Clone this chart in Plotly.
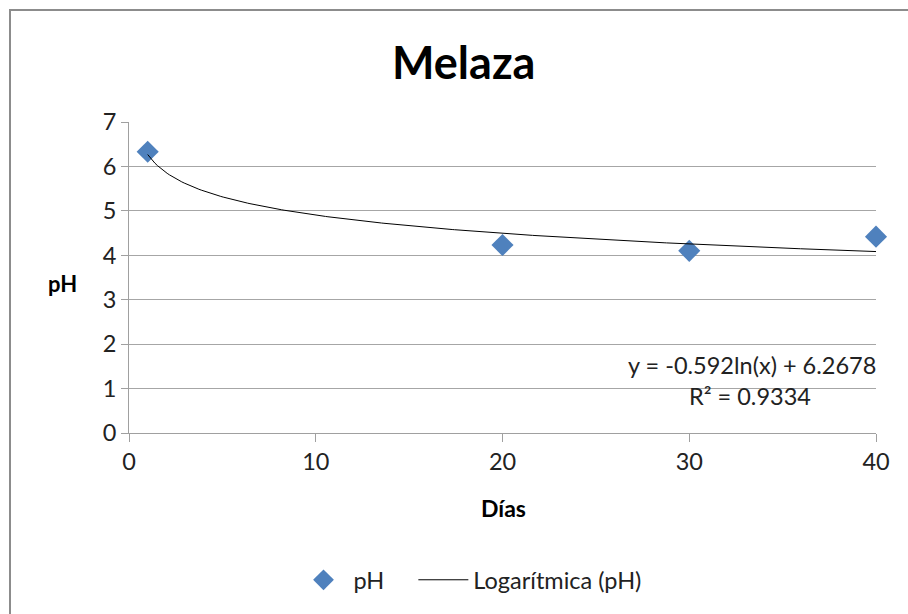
import numpy as np
import plotly.graph_objects as go

# Data
dias = [1, 20, 30, 40]
ph = [6.33, 4.23, 4.10, 4.42]

# Logarithmic trendline coefficients (as shown on chart)
trend_a = -0.592
trend_b = 6.2678
eq_text = "y = -0.592ln(x) + 6.2678"
r2_text = "R² = 0.9334"

x_ticks = [0, 10, 20, 30, 40]
y_ticks = [0, 1, 2, 3, 4, 5, 6, 7]

FONT = "Lato, 'Open Sans', sans-serif"
FS = 23.5
W, H = 908, 614
ml, mr, mt, mb = 129, 32, 122, 181
pw = W - ml - mr
ph_h = H - mt - mb

tx = np.linspace(min(dias), max(dias), 300)
ty = trend_a * np.log(tx) + trend_b

NBSP = "\u00a0"

fig = go.Figure()
fig.add_trace(go.Scatter(
    x=dias, y=ph, mode="markers", name="pH" + NBSP * 4,
    marker=dict(symbol="diamond", size=17, color="#4F81BD"),
    cliponaxis=False,
))
fig.add_trace(go.Scatter(
    x=tx, y=ty, mode="lines", name="Logarítmica (pH)",
    line=dict(color="black", width=1),
))

def px_to_paper_x(px):
    return (px - ml) / pw

def px_to_paper_y(py):
    return (H - mb - py) / ph_h

fig.update_layout(
    width=W, height=H,
    margin=dict(l=ml, r=mr, t=mt, b=mb),
    paper_bgcolor="white", plot_bgcolor="white",
    font=dict(family=FONT, size=FS, color="#222"),
    showlegend=True,
    legend=dict(orientation="h", x=px_to_paper_x(470), xanchor="center",
                y=px_to_paper_y(580), yanchor="middle",
                font=dict(size=FS, family=FONT, color="#222"),
                itemwidth=50, bgcolor="rgba(0,0,0,0)"),
    xaxis=dict(range=[0, 40], tickvals=x_ticks, showgrid=False,
               showline=True, linecolor="#a0a0a0", linewidth=1,
               ticks="outside", ticklen=8, tickcolor="#a0a0a0",
               zeroline=False, tickfont=dict(size=FS, family=FONT, color="#222")),
    yaxis=dict(range=[0, 7], tickvals=y_ticks, showgrid=True,
               gridcolor="#a6a6a6", gridwidth=1,
               showline=True, linecolor="#a0a0a0", linewidth=1,
               ticks="outside", ticklen=7, tickcolor="#a0a0a0",
               zeroline=False, tickfont=dict(size=FS, family=FONT, color="#222")),
    annotations=[
        dict(text="<b>Melaza</b>", xref="paper", yref="paper",
             x=px_to_paper_x(463), y=px_to_paper_y(62), xanchor="center", yanchor="middle",
             showarrow=False, font=dict(size=45, family=FONT, color="black")),
        dict(text="<b>pH</b>", xref="paper", yref="paper",
             x=px_to_paper_x(62), y=px_to_paper_y(283), xanchor="center", yanchor="middle",
             showarrow=False, font=dict(size=22, family=FONT, color="black")),
        dict(text="<b>Días</b>", xref="paper", yref="paper",
             x=px_to_paper_x(503), y=px_to_paper_y(508), xanchor="center", yanchor="middle",
             showarrow=False, font=dict(size=23, family=FONT, color="black")),
        dict(text=eq_text, xref="paper", yref="paper",
             x=px_to_paper_x(878), y=px_to_paper_y(365), xanchor="right", yanchor="middle",
             showarrow=False, font=dict(size=FS, family=FONT, color="#222")),
        dict(text=r2_text, xref="paper", yref="paper",
             x=px_to_paper_x(750), y=px_to_paper_y(396), xanchor="center", yanchor="middle",
             showarrow=False, font=dict(size=FS, family=FONT, color="#222")),
    ],
    shapes=[
        dict(type="rect", xref="paper", yref="paper",
             x0=px_to_paper_x(10), x1=px_to_paper_x(W + 20),
             y0=px_to_paper_y(H + 20), y1=px_to_paper_y(10),
             line=dict(color="#8c8c8c", width=2), fillcolor="rgba(0,0,0,0)", layer="below"),
    ],
)

fig.write_html("out.html", config={"displayModeBar": False})

# remove default body margin so the figure sits at the window origin
with open("out.html", encoding="utf-8") as f:
    html = f.read()
html = html.replace("<head>", "<head><style>html,body{margin:0;padding:0;overflow:hidden;}</style>", 1)
with open("out.html", "w", encoding="utf-8") as f:
    f.write(html)
